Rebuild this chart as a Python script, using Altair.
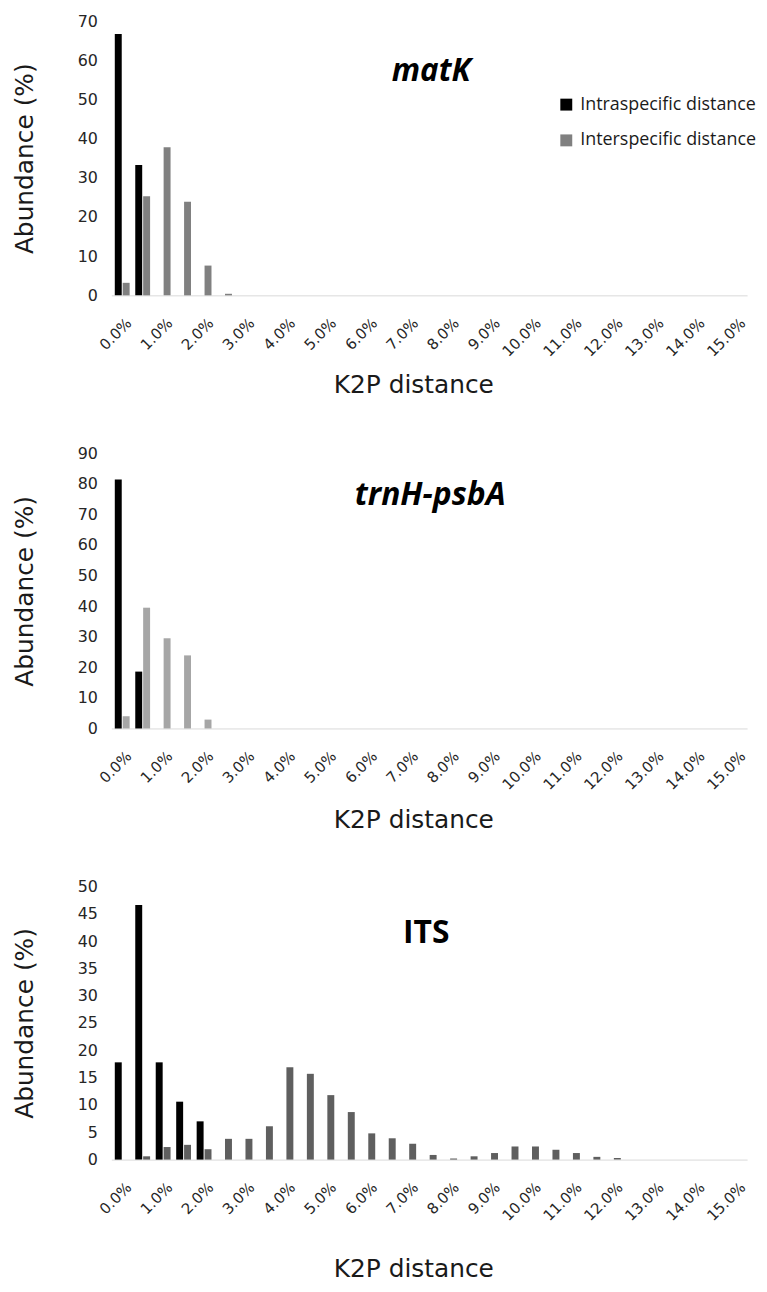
import altair as alt
import pandas as pd

categories = ["0.0%", "0.5%", "1.0%", "1.5%", "2.0%", "2.5%", "3.0%", "3.5%", "4.0%", "4.5%",
              "5.0%", "5.5%", "6.0%", "6.5%", "7.0%", "7.5%", "8.0%", "8.5%", "9.0%", "9.5%",
              "10.0%", "10.5%", "11.0%", "11.5%", "12.0%", "12.5%", "13.0%", "13.5%", "14.0%",
              "14.5%", "15.0%"]
tick_labels = ["0.0%", "1.0%", "2.0%", "3.0%", "4.0%", "5.0%", "6.0%", "7.0%", "8.0%", "9.0%",
               "10.0%", "11.0%", "12.0%", "13.0%", "14.0%", "15.0%"]
series = ["Intraspecific distance", "Interspecific distance"]

matk_intra = [66.7, 33.3]
matk_inter = [3.2, 25.3, 37.8, 23.9, 7.6, 0.4]

trnh_intra = [81.4, 18.6]
trnh_inter = [4.0, 39.5, 29.5, 23.9, 2.9]

its_intra = [17.8, 46.6, 17.8, 10.6, 7.0]
its_inter = [0.0, 0.6, 2.3, 2.7, 1.9, 3.8, 3.8, 6.1, 16.9, 15.7, 11.8, 8.7, 4.8, 3.9,
             2.9, 0.85, 0.2, 0.6, 1.2, 2.4, 2.4, 1.8, 1.2, 0.5, 0.3]

matk_yticks = [0, 10, 20, 30, 40, 50, 60, 70]
trnh_yticks = [0, 10, 20, 30, 40, 50, 60, 70, 80, 90]
its_yticks = [0, 5, 10, 15, 20, 25, 30, 35, 40, 45, 50]

W = 640
LABEL_FONT = "DejaVu Sans"


def make_df(intra, inter):
    rows = []
    for s, vals in zip(series, [intra, inter]):
        for i, v in enumerate(vals):
            if v and v > 0:
                rows.append({"cat": categories[i], "series": s, "value": v})
    return pd.DataFrame(rows)


def panel(intra, inter, yticks, gray, name, name_style, name_size, name_x, name_y,
          x_title_y, show_legend, H):
    df = make_df(intra, inter)
    if show_legend:
        legend = alt.Legend(orient="none", legendX=449, legendY=75, title=None,
                            symbolType="square", symbolSize=144, symbolStrokeWidth=0,
                            labelFont="Open Sans", labelFontSize=18, labelColor="#1a1a1a",
                            labelOffset=5, rowPadding=18, labelLimit=400)
    else:
        legend = None
    bars = alt.Chart(df).mark_bar().encode(
        x=alt.X("cat:N", sort=categories,
                scale=alt.Scale(domain=categories, paddingInner=0.275, paddingOuter=0.17),
                axis=alt.Axis(values=tick_labels, title="K2P distance", labelAngle=-45,
                              labelAlign="right", labelBaseline="top",
                              labelPadding=20, labelOffset=2, labelFont=LABEL_FONT,
                              labelFontSize=15, labelColor="#262626",
                              ticks=False, grid=False, domainColor="#d9d9d9",
                              domainWidth=1, titleFont=LABEL_FONT, titleFontSize=25,
                              titleFontWeight="normal", titleColor="#1a1a1a",
                              titleX=304, titleY=x_title_y, titleAlign="center",
                              titleBaseline="middle", labelOverlap=False)),
        xOffset=alt.XOffset("series:N", sort=series,
                            scale=alt.Scale(domain=series, paddingInner=0.12, paddingOuter=0)),
        y=alt.Y("value:Q", scale=alt.Scale(domain=[0, yticks[-1]], nice=False),
                axis=alt.Axis(values=yticks, title="Abundance (%)", domain=False,
                              ticks=False, grid=False, labelPadding=14,
                              labelFont=LABEL_FONT, labelFontSize=16, labelColor="#262626",
                              titleFont=LABEL_FONT, titleFontSize=25,
                              titleFontWeight="normal", titleColor="#1a1a1a",
                              titleX=-87, titleY=H / 2, titleAngle=270,
                              titleBaseline="middle", titleAlign="center")),
        color=alt.Color("series:N", scale=alt.Scale(domain=series, range=["#000000", gray]),
                        legend=legend),
    )
    title = alt.Chart(pd.DataFrame({"t": [name]})).mark_text(
        font="Open Sans", fontSize=name_size, fontWeight="bold", fontStyle=name_style,
        color="#000000", align="center", baseline="alphabetic"
    ).encode(text="t:N", x=alt.value(name_x), y=alt.value(name_y))
    return alt.layer(bars, title).properties(width=W, height=H)


p1 = panel(matk_intra, matk_inter, matk_yticks, "#808080", "matK", "italic", 31.5, 322, 60, 90, True, 276)
p2 = panel(trnh_intra, trnh_inter, trnh_yticks, "#a6a6a6", "trnH-psbA", "italic", 32, 321, 52, 92, False, 277)
p3 = panel(its_intra, its_inter, its_yticks, "#5f5f5f", "ITS", "normal", 32, 317, 57, 110, False, 275)

chart = alt.vconcat(p1, p2, p3, spacing=159, bounds="flush").resolve_scale(color="independent").properties(
    padding={"left": 5, "top": 1, "right": 2, "bottom": 2}
).configure_view(stroke=None)

chart.save("out.html", embed_options={"renderer": "svg", "actions": False})
